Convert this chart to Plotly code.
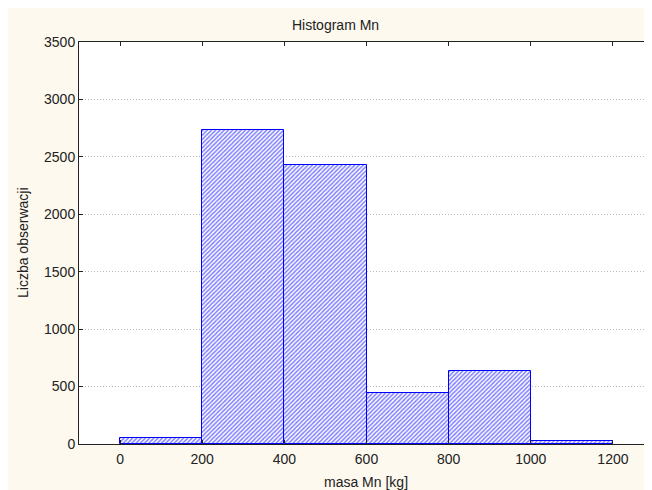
import plotly.graph_objects as go

# Data
bin_starts = [0, 200, 400, 600, 800, 1000]
bin_width = 200
counts = [50, 2737, 2432, 441, 635, 30]
x_ticks = [0, 200, 400, 600, 800, 1000, 1200]
y_ticks = [0, 500, 1000, 1500, 2000, 2500, 3000, 3500]

centers = [s + bin_width / 2 for s in bin_starts]

FONT = "Liberation Sans, Arial, sans-serif"
TXT = "#222222"
CREAM = "#fdf9ee"
BLUE = "#0000ff"

fig = go.Figure(
    go.Bar(
        x=centers,
        y=counts,
        width=[bin_width] * len(counts),
        marker=dict(
            color="white",
            line=dict(color=BLUE, width=1),
            pattern=dict(shape="/", fgcolor=BLUE, bgcolor="white", size=3, solidity=0.5),
        ),
        hoverinfo="skip",
    )
)

# page body has an 8px margin, so figure coords = window coords - 8;
# the figure is larger than the window and is cropped at the right/bottom
W, H = 652, 490
L, R, T, B = 71, 6, 34, 54
pw = W - L - R
ph = H - T - B

def px_x(p):
    return (p - L) / pw

def px_y(p):
    return (H - B - p) / ph

fig.update_layout(
    width=W,
    height=H,
    margin=dict(l=L, r=R, t=T, b=B, pad=0),
    paper_bgcolor=CREAM,
    plot_bgcolor="white",
    showlegend=False,
    bargap=0,
    font=dict(family=FONT, size=14, color=TXT),
    xaxis=dict(
        range=[-100, 1300],
        tickvals=x_ticks,
        ticktext=[str(v) for v in x_ticks],
        ticks="inside",
        ticklen=4,
        tickcolor="#222",
        showline=True,
        linecolor="#222",
        linewidth=1,
        mirror="ticks",
        showgrid=False,
        zeroline=False,
        tickfont=dict(size=14, color=TXT),
        ticklabelstandoff=2,
        fixedrange=True,
    ),
    yaxis=dict(
        range=[0, 3500],
        tickvals=y_ticks,
        ticktext=[str(v) for v in y_ticks],
        ticks="inside",
        ticklen=4,
        tickcolor="#222",
        showline=True,
        linecolor="#222",
        linewidth=1,
        mirror="ticks",
        showgrid=True,
        gridcolor="#b8b8b8",
        griddash="1px,2px",
        gridwidth=1,
        zeroline=False,
        tickfont=dict(size=14, color=TXT),
        fixedrange=True,
    ),
    annotations=[
        dict(text="Histogram Mn", xref="paper", yref="paper", x=px_x(327), y=px_y(17),
             xanchor="center", yanchor="middle", showarrow=False, font=dict(size=14, color=TXT)),
        dict(text="masa Mn [kg]", xref="paper", yref="paper", x=px_x(358), y=px_y(474),
             xanchor="center", yanchor="middle", showarrow=False, font=dict(size=14, color=TXT)),
        dict(text="Liczba obserwacji", xref="paper", yref="paper", x=px_x(15), y=0.5,
             xanchor="center", yanchor="middle", textangle=-90, showarrow=False,
             font=dict(size=14, color=TXT)),
    ],
)

fig.write_html(
    "out.html",
    config={"displayModeBar": False},
    post_script="document.documentElement.style.overflow='hidden';document.body.style.overflow='hidden';",
)
